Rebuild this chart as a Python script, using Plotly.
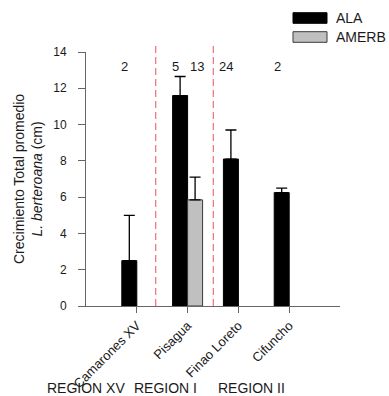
import plotly.graph_objects as go

# ---- data ----
sites = ["Camarones XV", "Pisagua", "Finao Loreto", "Cifuncho"]
ala_mean = [2.5, 11.6, 8.1, 6.25]
ala_err = [2.5, 1.05, 1.6, 0.25]
amerb_mean = [None, 5.85, None, None]
amerb_err = [None, 1.25, None, None]
n_ala = [2, 5, 24, 2]
n_amerb = [None, 13, None, None]
regions = ["REGION XV", "REGION I", "REGION II"]
series_names = ["ALA", "AMERB"]
y_ticks = [0, 2, 4, 6, 8, 10, 12, 14]

# ---- layout constants ----
W, H = 389, 396
ML, MR, MT, MB = 86, 49, 52, 90
PW = W - ML - MR
PH = H - MT - MB
FONT = "Arial, Liberation Sans, sans-serif"
ALA_COLOR = "#000000"
AMERB_COLOR = "#c0c0c0"
TXT = "#1a1a1a"


def px_x(p):
    return (p - ML) / PW


def px_y(p):
    return (H - MB - p) / PH


fig = go.Figure()
fig.add_trace(go.Bar(
    x=sites, y=ala_mean, name=series_names[0],
    marker=dict(color=ALA_COLOR, line=dict(color="#000", width=1)),
    error_y=dict(type="data", array=ala_err, arrayminus=[0] * 4, symmetric=False,
                 color="#000", thickness=1.3, width=5.5),
    showlegend=False,
))
fig.add_trace(go.Bar(
    x=sites, y=amerb_mean, name=series_names[1],
    marker=dict(color=AMERB_COLOR, line=dict(color="#3a3a3a", width=1)),
    error_y=dict(type="data", array=[e if e is not None else 0 for e in amerb_err],
                 arrayminus=[0] * 4, symmetric=False,
                 color="#000", thickness=1.3, width=5.5),
    showlegend=False,
))

# region separators (dashed red lines)
for xs in [0.373, 1.505]:
    fig.add_shape(type="line", xref="x", yref="paper", x0=xs, x1=xs, y0=0, y1=1.035,
                  line=dict(color="#e8505e", width=1, dash="7px,4px"), layer="above")

annotations = []
# sample sizes
for i, n in enumerate(n_ala):
    if n is not None:
        annotations.append(dict(x=i - 0.24, y=13.2, xref="x", yref="y", text=str(n),
                                showarrow=False, font=dict(size=13, color=TXT)))
for i, n in enumerate(n_amerb):
    if n is not None:
        annotations.append(dict(x=i + 0.18, y=13.2, xref="x", yref="y", text=str(n),
                                showarrow=False, font=dict(size=13, color=TXT)))

# region labels
for lab, cx in zip(regions, [86, 165, 251]):
    annotations.append(dict(x=px_x(cx), y=px_y(388), xref="paper", yref="paper", text=lab,
                            showarrow=False, xanchor="center", yanchor="middle",
                            font=dict(size=14, color=TXT)))

# y-axis title
annotations.append(dict(x=px_x(28), y=0.5, xref="paper", yref="paper",
                        text="Crecimiento Total promedio<br><i>L. berteroana</i> (cm)",
                        textangle=-90, showarrow=False, xanchor="center", yanchor="middle",
                        font=dict(size=14, color=TXT)))

# manual legend
legend_rows = [(series_names[0], ALA_COLOR, "#000", 12.7, 23.3),
               (series_names[1], AMERB_COLOR, "#3a3a3a", 31.7, 42.3)]
for name, fill, edge, top, bot in legend_rows:
    fig.add_shape(type="rect", xref="paper", yref="paper",
                  x0=px_x(293), x1=px_x(327), y0=px_y(bot), y1=px_y(top),
                  fillcolor=fill, line=dict(color=edge, width=1))
    annotations.append(dict(x=px_x(334), y=px_y((top + bot) / 2), xref="paper", yref="paper",
                            text=name, showarrow=False, xanchor="left", yanchor="middle",
                            font=dict(size=14, color=TXT)))

fig.update_layout(
    width=W, height=H,
    margin=dict(l=ML, r=MR, t=MT, b=MB, autoexpand=False),
    paper_bgcolor="white", plot_bgcolor="white",
    barmode="group", bargap=0.41, bargroupgap=0,
    font=dict(family=FONT, size=13, color=TXT),
    annotations=annotations,
    showlegend=False,
)
fig.update_xaxes(
    range=[-1, 4], showline=True, linecolor="#666", linewidth=1,
    ticks="outside", ticklen=6, tickcolor="#666", tickangle=-45,
    tickfont=dict(size=13, color=TXT), showgrid=False, zeroline=False,
)
fig.update_yaxes(
    range=[0, 14], tickvals=y_ticks, showline=True, linecolor="#666", linewidth=1,
    ticks="outside", ticklen=7, tickcolor="#666", ticklabelstandoff=9,
    tickfont=dict(size=12, color=TXT), showgrid=False, zeroline=False,
)

fig.write_html("out.html", config={"displayModeBar": False},
               post_script="document.body.style.margin='0px';document.body.style.overflow='hidden';")
